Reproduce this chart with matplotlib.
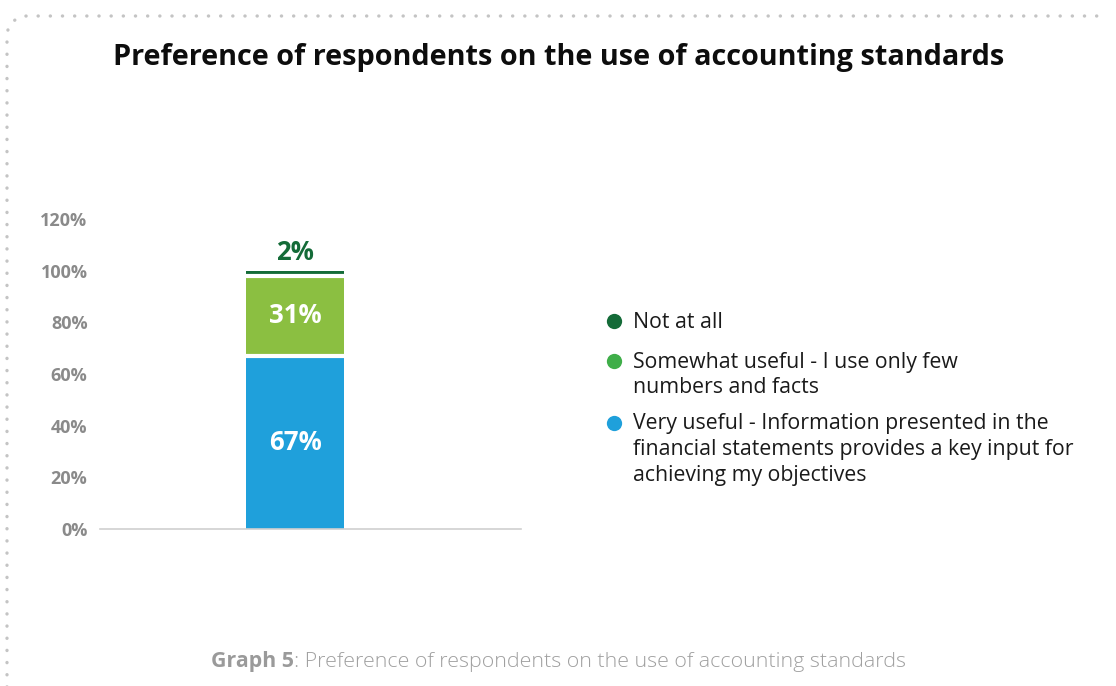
import numpy as np
import matplotlib.pyplot as plt
from matplotlib.lines import Line2D

plt.rcParams['font.family'] = ['Open Sans', 'DejaVu Sans']

# survey answers, stacked bottom to top
answers = [["Very useful - Information presented in the",
            "financial statements provides a key input for",
            "achieving my objectives"],
           ["Somewhat useful - I use only few", "numbers and facts"],
           ["Not at all"]]
shares = [67, 31, 2]
bar_colors = ["#1fa0db", "#8bbf41", "#146b38"]
legend_colors = ["#1fa0db", "#3fae49", "#146b38"]
yticks = [0, 20, 40, 60, 80, 100, 120]

W, H = 1116, 686
fig = plt.figure(figsize=(W / 100, H / 100), dpi=100)

# axes placed in pixel terms
left, right, bottom, top = 100, 521, 529, 219
ax = fig.add_axes([left / W, 1 - bottom / H, (right - left) / W, (bottom - top) / H])

bar_w = 0.5
xl = (-bar_w * 195 / 98, bar_w * 226 / 98)
base = 0
for val, col in zip(shares, bar_colors):
    ax.bar(0, val, bottom=base, width=bar_w, color=col, linewidth=0)
    base += val
    # white gap between stacked pieces
    if base < sum(shares):
        ax.plot([-bar_w / 2, bar_w / 2], [base, base], color="white", lw=3,
                solid_capstyle="butt")

# value labels
lab_kw = dict(ha="center", va="center", fontsize=18.5, fontweight="bold")
ax.text(0, shares[0] / 2, f"{shares[0]}%", color="white", **lab_kw)
ax.text(0, shares[0] + shares[1] / 2, f"{shares[1]}%", color="white", **lab_kw)
ax.text(0, sum(shares) + 7, f"{shares[2]}%", color="#146b38", **lab_kw)

ax.set_xlim(*xl)
ax.set_ylim(0, 120)
ax.set_yticks(yticks)
ax.set_yticklabels([f"{t}%" for t in yticks], color="#8a8a8a", fontsize=13, fontweight="bold")
ax.tick_params(axis="y", length=0, pad=9)
ax.set_xticks([])
for s in ["top", "right", "left"]:
    ax.spines[s].set_visible(False)
ax.spines["bottom"].set_color("#d0d0d0")
ax.spines["bottom"].set_linewidth(1.2)

# legend drawn by hand
leg_y = [423, 361, 321]
for y, lines, col in zip(leg_y, answers, legend_colors):
    fig.add_artist(Line2D([614 / W], [1 - y / H], transform=fig.transFigure, marker="o",
                          markersize=11, color=col, markeredgewidth=0, linestyle="none"))
    for i, txt in enumerate(lines):
        fig.text(633 / W, 1 - (y + 1 + 25.5 * i) / H, txt, ha="left", va="center",
                 fontsize=15.3, color="#1a1a1a")

# title
fig.text(559 / W, 1 - 58 / H, "Preference of respondents on the use of accounting standards",
         ha="center", va="center", fontsize=20.8, fontweight="bold", color="#0d0d0d")

# caption, bold part then light part, centred as a whole
cap_y = 1 - 662 / H
fig.canvas.draw()
r = fig.canvas.get_renderer()
t1 = fig.text(0, cap_y, "Graph 5", ha="left", va="center", fontsize=15.4,
              fontweight="bold", color="#9a9a9a")
t2 = fig.text(0, cap_y, ": Preference of respondents on the use of accounting standards",
              ha="left", va="center", fontsize=15.4, fontweight="light", color="#a0a0a0")
w1 = t1.get_window_extent(r).width
w2 = t2.get_window_extent(r).width
x0 = 558.5 - (w1 + w2) / 2
t1.set_x(x0 / W)
t2.set_x((x0 + w1) / W)

# dotted frame with rounded corner
rad = 20
theta = np.linspace(np.pi, np.pi / 2, 20)
xs = np.concatenate([[7, 7], 7 + rad + rad * np.cos(theta), [1108]])
ys = np.concatenate([[690, 16 + rad], 16 + rad - rad * np.sin(theta), [16]])
fig.add_artist(Line2D(xs / W, 1 - ys / H, transform=fig.transFigure, color="#c4c4c4",
                      linewidth=2.4, linestyle=(0, (0.05, 3.6)), dash_capstyle="round"))

fig.savefig("out.png", dpi=100)
